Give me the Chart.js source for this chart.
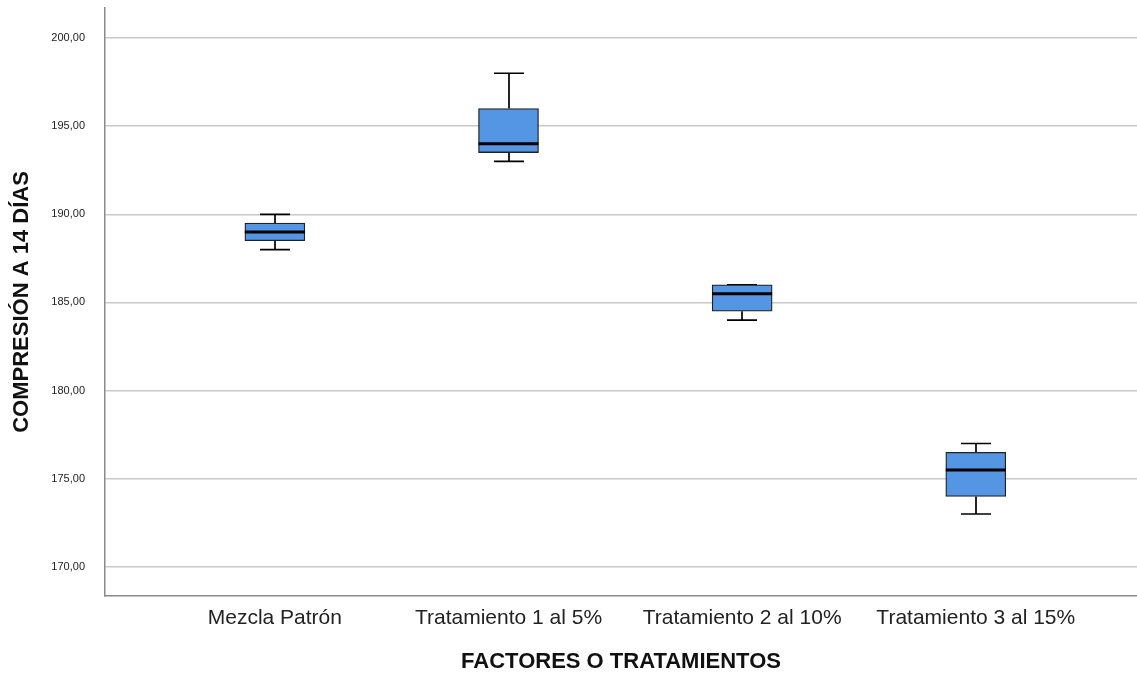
<!DOCTYPE html>
<html><head><meta charset="utf-8">
<script src="https://cdn.jsdelivr.net/npm/chart.js@4/dist/chart.umd.min.js"></script>
<style>html,body{margin:0;padding:0;background:#fff}#wrap{width:1137px;height:675px}</style>
</head><body><div id="wrap"><canvas id="c"></canvas></div>
<script>
const categories = ["Mezcla Patrón", "Tratamiento 1 al 5%", "Tratamiento 2 al 10%", "Tratamiento 3 al 15%"];
const whiskerLow  = [188.0, 193.0, 184.0, 173.0];
const q1Values    = [188.5, 193.5, 184.5, 174.0];
const medians     = [189.0, 194.0, 185.5, 175.5];
const q3Values    = [189.5, 196.0, 186.0, 176.5];
const whiskerHigh = [190.0, 198.0, 186.0, 177.0];
const yTicks = [170, 175, 180, 185, 190, 195, 200];

const boxData = categories.map((c, i) => ({x: i, y: [q1Values[i], q3Values[i]]}));

const boxPlugin = {
  id: 'boxparts',
  beforeDatasetsDraw(chart) {
    const ctx = chart.ctx, xs = chart.scales.x, ys = chart.scales.y;
    ctx.save();
    ctx.strokeStyle = '#000'; ctx.lineWidth = 1.7;
    categories.forEach((c, i) => {
      const x = Math.round(xs.getPixelForValue(i));
      const yh = ys.getPixelForValue(whiskerHigh[i]), y3 = ys.getPixelForValue(q3Values[i]);
      const y1 = ys.getPixelForValue(q1Values[i]), yl = ys.getPixelForValue(whiskerLow[i]);
      ctx.beginPath();
      ctx.moveTo(x, yh); ctx.lineTo(x, y3);
      ctx.moveTo(x, y1); ctx.lineTo(x, yl);
      ctx.moveTo(x - 15, yh); ctx.lineTo(x + 15, yh);
      ctx.moveTo(x - 15, yl); ctx.lineTo(x + 15, yl);
      ctx.stroke();
    });
    ctx.restore();
  },
  afterDatasetsDraw(chart) {
    const ctx = chart.ctx, xs = chart.scales.x, ys = chart.scales.y;
    ctx.save();
    ctx.strokeStyle = '#000'; ctx.lineWidth = 3;
    categories.forEach((c, i) => {
      const x = xs.getPixelForValue(i);
      const ym = ys.getPixelForValue(medians[i]);
      ctx.beginPath(); ctx.moveTo(x - 30, ym); ctx.lineTo(x + 30, ym); ctx.stroke();
    });
    ctx.restore();
  }
};

new Chart(document.getElementById('c'), {
  type: 'bar',
  data: { datasets: [{
    data: boxData,
    backgroundColor: 'rgb(84,150,228)',
    borderColor: '#222',
    borderWidth: 1.3,
    borderSkipped: false,
    barThickness: 60
  }]},
  options: {
    responsive: true, maintainAspectRatio: false, animation: false,
    layout: { padding: { top: 8, right: 0, left: 0, bottom: 0 } },
    plugins: { legend: { display: false }, tooltip: { enabled: false } },
    scales: {
      x: {
        type: 'linear', min: -0.727, max: 3.69, offset: false,
        afterFit(s) { s.height = 79; s.paddingLeft = 0; s.paddingRight = 0; },
        afterBuildTicks(s) { s.ticks = categories.map((c, i) => ({value: i})); },
        grid: { display: false, drawTicks: false },
        border: { display: true, color: '#8a8a8a', width: 1.5 },
        ticks: { padding: 10, color: '#222', font: { family: 'Liberation Sans, Arial', size: 21 },
                 callback: (v) => categories[v], maxRotation: 0, autoSkip: false },
        title: { display: true, text: 'FACTORES O TRATAMIENTOS', color: '#111',
                 font: { family: 'Liberation Sans, Arial', size: 22, weight: 'bold' },
                 padding: { top: 0, bottom: 0 } }
      },
      y: {
        min: 168.35, max: 201.7,
        afterFit(s) { s.width = 105; s.paddingTop = 0; s.paddingBottom = 0; },
        afterBuildTicks(s) { s.ticks = yTicks.map(v => ({value: v})); },
        grid: { color: 'rgb(200,200,200)', lineWidth: 1.5, drawTicks: false },
        border: { display: true, color: '#8a8a8a', width: 1.5 },
        ticks: { padding: 20, color: '#222', font: { family: 'Liberation Sans, Arial', size: 11 },
                 callback: (v) => v.toFixed(2).replace('.', ',') },
        title: { display: true, text: 'COMPRESIÓN A 14 DÍAS', color: '#111',
                 font: { family: 'Liberation Sans, Arial', size: 22, weight: 'bold' },
                 padding: { top: 9, bottom: 0 } }
      }
    }
  },
  plugins: [boxPlugin]
});
</script></body></html>
